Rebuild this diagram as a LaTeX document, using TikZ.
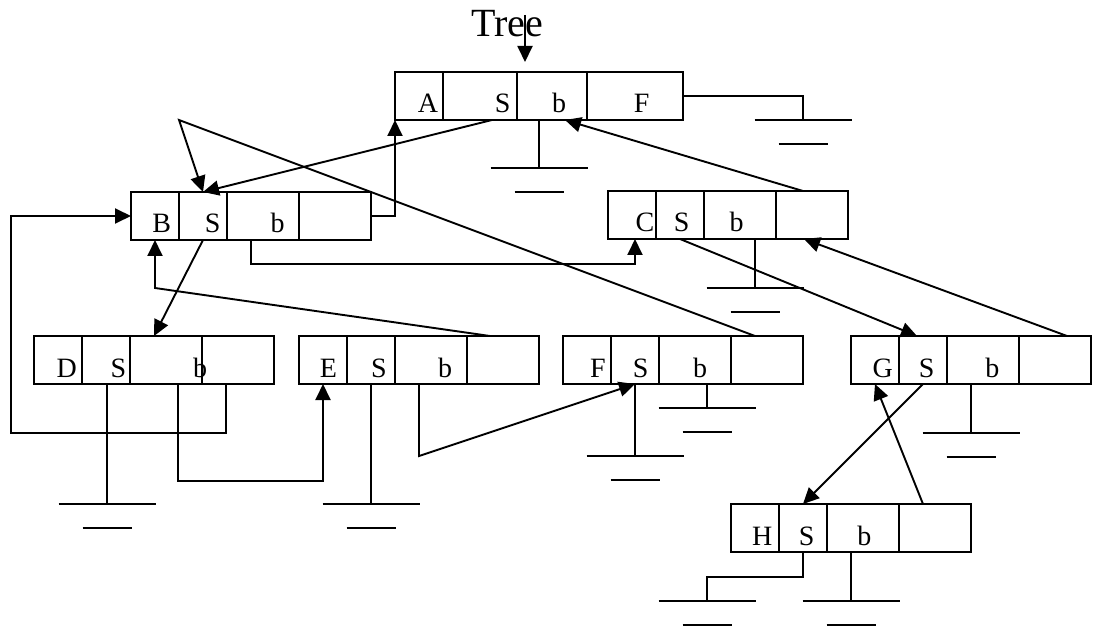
\documentclass[tikz,border=0pt]{standalone}
\usepackage{fontspec}
\setmainfont{Liberation Serif}
\usetikzlibrary{arrows.meta, positioning}

\begin{document}
\begin{tikzpicture}[
    x=1pt, y=-1pt,
    line width=1.9pt,
    every node/.style={font=\fontsize{28}{30}\selectfont},
    cell/.style={draw, rectangle, minimum height=48, inner sep=0pt, outer sep=0pt},
    narrow/.style={cell, minimum width=48},
    wide/.style={cell, minimum width=72},
    ltr/.style={anchor=base, inner sep=0pt},
    arr/.style={-{Triangle[length=16pt,width=15pt]}},
    earth/.pic={\draw (-48.5,0) -- (48.5,0); \draw (-24.5,24) -- (24.5,24);}
]
\useasboundingbox (0,0) rectangle (1095,628);

% Title
\node[ltr, font=\fontsize{40}{44}\selectfont] (tree) at (507.5,37) {Tree};

% Record A
\node[narrow, anchor=north west] (A1) at (395,72) {};
\node[cell, minimum width=74, right=0pt of A1] (A2) {};
\node[cell, minimum width=70, right=0pt of A2] (A3) {};
\node[cell, minimum width=96, right=0pt of A3] (A4) {};
\node[ltr] (tA1) at (428,113) {A};
\node[ltr] (tA2) at (502.7,113) {S};
\node[ltr] (tA3) at (559,113) {b};
\node[ltr] (tA4) at (641.7,113) {F};

% Record B
\node[narrow, anchor=north west] (B1) at (131,192) {};
\node[narrow, right=0pt of B1] (B2) {};
\node[wide, right=0pt of B2] (B3) {};
\node[wide, right=0pt of B3] (B4) {};
\node[ltr] (tB1) at (161.7,233) {B};
\node[ltr] (tB2) at (212.7,233) {S};
\node[ltr] (tB3) at (277.7,233) {b};

% Record C
\node[narrow, anchor=north west] (C1) at (608,191) {};
\node[narrow, right=0pt of C1] (C2) {};
\node[wide, right=0pt of C2] (C3) {};
\node[wide, right=0pt of C3] (C4) {};
\node[ltr] (tC1) at (645,232) {C};
\node[ltr] (tC2) at (681.7,232) {S};
\node[ltr] (tC3) at (736.7,232) {b};

% Record D
\node[narrow, anchor=north west] (D1) at (34,336) {};
\node[narrow, right=0pt of D1] (D2) {};
\node[wide, right=0pt of D2] (D3) {};
\node[wide, right=0pt of D3] (D4) {};
\node[ltr] (tD1) at (66.7,377) {D};
\node[ltr] (tD2) at (118.3,377) {S};
\node[ltr] (tD3) at (200,377) {b};

% Record E
\node[narrow, anchor=north west] (E1) at (299,336) {};
\node[narrow, right=0pt of E1] (E2) {};
\node[wide, right=0pt of E2] (E3) {};
\node[wide, right=0pt of E3] (E4) {};
\node[ltr] (tE1) at (328.3,377) {E};
\node[ltr] (tE2) at (379,377) {S};
\node[ltr] (tE3) at (445,377) {b};

% Record F
\node[narrow, anchor=north west] (F1) at (563,336) {};
\node[narrow, right=0pt of F1] (F2) {};
\node[wide, right=0pt of F2] (F3) {};
\node[wide, right=0pt of F3] (F4) {};
\node[ltr] (tF1) at (598,377) {F};
\node[ltr] (tF2) at (640.7,377) {S};
\node[ltr] (tF3) at (700,377) {b};

% Record G
\node[narrow, anchor=north west] (G1) at (851,336) {};
\node[narrow, right=0pt of G1] (G2) {};
\node[wide, right=0pt of G2] (G3) {};
\node[wide, right=0pt of G3] (G4) {};
\node[ltr] (tG1) at (882.7,377) {G};
\node[ltr] (tG2) at (926.7,377) {S};
\node[ltr] (tG3) at (992.3,377) {b};

% Record H
\node[narrow, anchor=north west] (H1) at (731,504) {};
\node[narrow, right=0pt of H1] (H2) {};
\node[wide, right=0pt of H2] (H3) {};
\node[wide, right=0pt of H3] (H4) {};
\node[ltr] (tH1) at (762.3,545) {H};
\node[ltr] (tH2) at (806.7,545) {S};
\node[ltr] (tH3) at (864.3,545) {b};

% Bends and ground points
\coordinate (treeIn) at (525,15);
\coordinate (bendDB) at (11,433);
\coordinate (bendEB) at (155,288);
\coordinate (bendFB) at (179,120);
\coordinate (kH) at (707,577);
\coordinate (gA3) at (539,168);
\coordinate (gA4) at (803,120);
\coordinate (gC3) at (755,288);
\coordinate (gD2) at (107,504);
\coordinate (gE2) at (371,504);
\coordinate (gF2) at (635,456);
\coordinate (gF3) at (707,408);
\coordinate (gG3) at (971,433);
\coordinate (gH2) at (707,601);
\coordinate (gH3) at (851,601);

% Pointers
\draw[arr, shorten >=10pt] (treeIn) -- (treeIn |- A3.north);
\draw[arr] ([xshift=12]A2.south) -- (B2.north);
\draw[arr] (B4.east) -| (A1.south west);
\draw[arr] ([xshift=-12]B3.south) -- ++(0,24) -| ([xshift=3]C1.south);
\draw[arr] ([xshift=-9]C4.north) -- ([xshift=13]A3.south);
\draw[arr] (C2.south) -- ([xshift=-6]G2.north);
\draw[arr] ([xshift=12]G4.north) -- ([xshift=-8]C4.south);
\draw[arr] (B2.south) -- ([xshift=-12]D3.north);
\draw[arr] ([xshift=-12]D4.south) |- (bendDB) |- (B1.west);
\draw[arr] ([xshift=12]D3.south) -- ++(0,97) -| (E1.south);
\draw[arr] ([xshift=-13]E4.north) -- (bendEB) -- (B1.south);
\draw[arr] ([xshift=-12]E3.south) -- ++(0,72) -- (F2.south);
\draw[arr] ([xshift=-12]F4.north) -- (bendFB) -- (B2.north);
\draw[arr] (G2.south) -- (H2.north);
\draw[arr] ([xshift=-12]H4.north) -- (G1.south);

% Null pointers
\draw (gA3 |- A3.south) -- (gA3) pic {earth};
\draw (A4.east) -| (gA4) pic {earth};
\draw (gC3 |- C3.south) -- (gC3) pic {earth};
\draw (gD2 |- D2.south) -- (gD2) pic {earth};
\draw (gE2 |- E2.south) -- (gE2) pic {earth};
\draw (gF2 |- F2.south) -- (gF2) pic {earth};
\draw (gF3 |- F3.south) -- (gF3) pic {earth};
\draw (gG3 |- G3.south) -- (gG3) pic {earth};
\draw (H2.south) |- (kH) -- (gH2) pic {earth};
\draw (gH3 |- H3.south) -- (gH3) pic {earth};

\end{tikzpicture}
\end{document}
